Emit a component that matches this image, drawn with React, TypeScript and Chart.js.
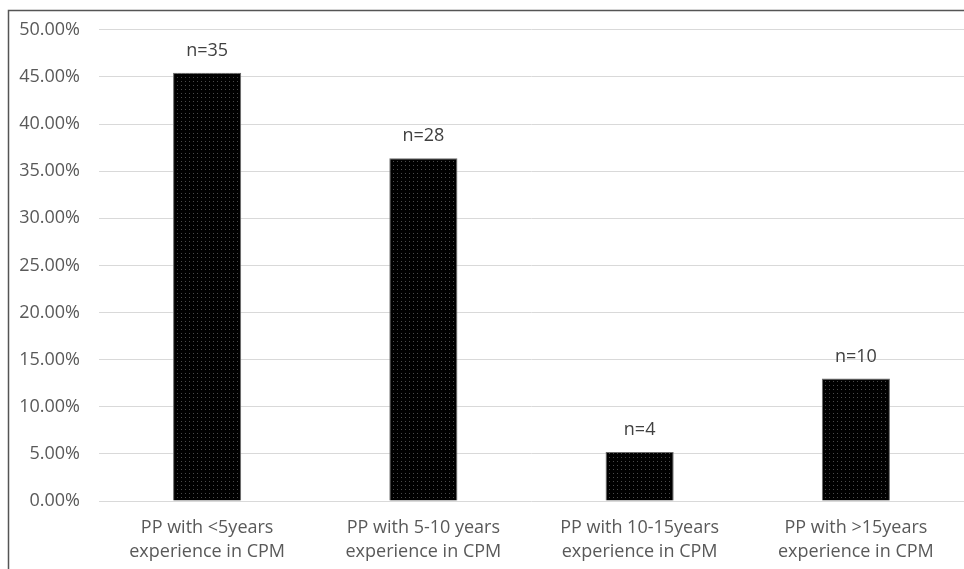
import React, { useEffect, useRef } from "react";
import { Chart, registerables } from "chart.js";

Chart.register(...registerables);

// Respondent groups by years of experience in CPM
const categories: string[][] = [
  ["PP with <5years", "experience in CPM"],
  ["PP with 5-10 years", "experience in CPM"],
  ["PP with 10-15years", "experience in CPM"],
  ["PP with >15years", "experience in CPM"],
];
const counts: number[] = [35, 28, 4, 10];
const total = counts.reduce((a, b) => a + b, 0);
const shares: number[] = counts.map((n) => (n / total) * 100);
const countLabels: string[] = counts.map((n) => `n=${n}`);

const FONT = "'Open Sans', 'Liberation Sans', sans-serif";

function makeDotPattern(): CanvasPattern | string {
  const c = document.createElement("canvas");
  c.width = 4;
  c.height = 4;
  const g = c.getContext("2d");
  if (!g) return "#000";
  g.fillStyle = "#000000";
  g.fillRect(0, 0, 4, 4);
  g.fillStyle = "#4a4a4a";
  g.fillRect(1, 1, 1, 1);
  const p = g.createPattern(c, "repeat");
  return p || "#000";
}

const frame = {
  id: "frame",
  beforeDraw(chart: any) {
    const { ctx, width, height } = chart;
    ctx.save();
    ctx.fillStyle = "#ffffff";
    ctx.fillRect(0, 0, width, height);
    ctx.restore();
  },
  afterDraw(chart: any) {
    const { ctx, width, height } = chart;
    ctx.save();
    ctx.strokeStyle = "#555555";
    ctx.lineWidth = 1.5;
    ctx.strokeRect(8.5, 10.5, width + 10, height + 10);
    ctx.restore();
  },
};

const countTags = {
  id: "countTags",
  afterDatasetsDraw(chart: any) {
    const { ctx } = chart;
    const meta = chart.getDatasetMeta(0);
    ctx.save();
    ctx.fillStyle = "#404040";
    ctx.font = `18px ${FONT}`;
    ctx.textAlign = "center";
    ctx.textBaseline = "middle";
    meta.data.forEach((bar: any, i: number) => {
      ctx.fillText(countLabels[i], bar.x, bar.y - 22);
    });
    ctx.restore();
  },
};

export default function App() {
  const ref = useRef<HTMLCanvasElement | null>(null);

  useEffect(() => {
    if (!ref.current) return;
    const chart = new Chart(ref.current, {
      type: "bar",
      data: {
        labels: categories,
        datasets: [
          {
            data: shares,
            backgroundColor: makeDotPattern() as any,
            borderColor: "#6a6a6a",
            borderWidth: 1,
            barPercentage: 0.315,
            categoryPercentage: 1,
          },
        ],
      },
      options: {
        responsive: false,
        animation: false,
        devicePixelRatio: 1,
        layout: { padding: { top: 28, right: 0, left: 0, bottom: 0 } },
        plugins: {
          legend: { display: false },
          tooltip: { enabled: false },
        },
        scales: {
          x: {
            grid: { display: false, drawTicks: false },
            border: { display: false },
            ticks: {
              color: "#595959",
              font: { family: FONT, size: 18, lineHeight: 1.34 },
              padding: 15,
              maxRotation: 0,
              autoSkip: false,
            },
            afterFit(scale: any) {
              scale.height = 68;
            },
          },
          y: {
            min: 0,
            max: 50,
            grid: { color: "#d9d9d9", lineWidth: 1, drawTicks: false },
            border: { display: false },
            ticks: {
              stepSize: 5,
              color: "#595959",
              font: { family: FONT, size: 18 },
              padding: 19,
              callback: (v: any) => `${Number(v).toFixed(2)}%`,
            },
            afterFit(scale: any) {
              scale.width = 99;
            },
          },
        },
      },
      plugins: [frame, countTags],
    });
    return () => chart.destroy();
  }, []);

  return (
    <div style={{ position: "absolute", left: 0, top: 0, width: 964, height: 569 }}>
      <canvas ref={ref} width={964} height={569} style={{ display: "block" }} />
    </div>
  );
}
